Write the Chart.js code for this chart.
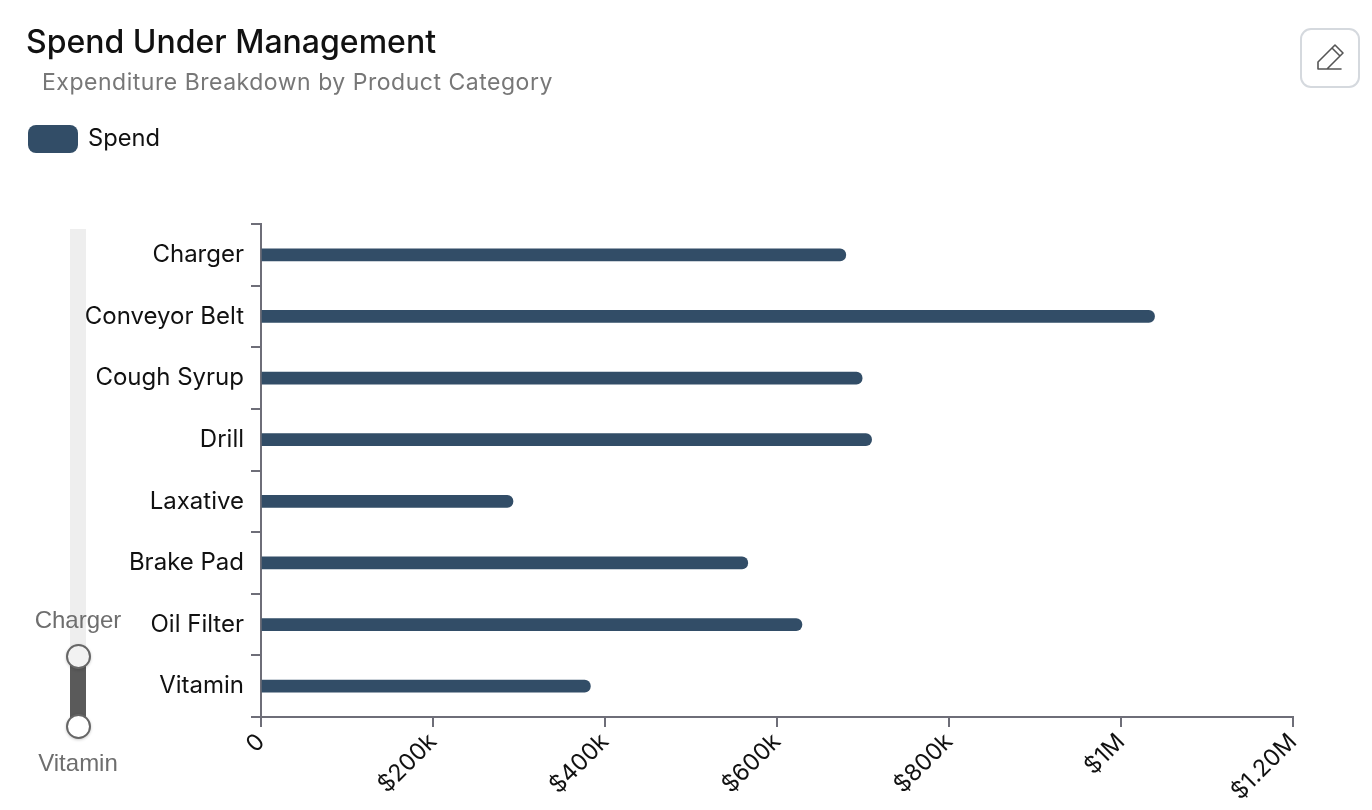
<!DOCTYPE html>
<html>
<head>
<meta charset="utf-8">
<script src="https://cdn.jsdelivr.net/npm/chart.js@4"></script>
<style>
html,body{margin:0;padding:0;background:#fff;width:1372px;height:810px;overflow:hidden;font-family:Inter,sans-serif}
#wrap{position:relative;width:1372px;height:810px}
canvas{position:absolute;left:0;top:0}
.t{position:absolute;white-space:nowrap;line-height:1}
#title{left:26px;top:26px;font-size:32px;font-weight:500;color:#111}
#sub{left:42px;top:71px;font-size:23px;color:#777;letter-spacing:.52px}
#sw{position:absolute;left:28px;top:125px;width:50px;height:28px;border-radius:8px;background:#324d67}
#leg{left:88px;top:126px;font-size:23.7px;color:#111}
.sl{font-family:"Liberation Sans",sans-serif;font-size:24px;color:#6e6e6e;width:120px;text-align:center;left:18px}
#trk{position:absolute;left:70px;top:229px;width:16px;height:497px;background:#eee}
#sel{position:absolute;left:70px;top:656px;width:16px;height:70px;background:#5a5a5a}
.h{position:absolute;left:66px;width:21px;height:21px;border:2px solid #666;border-radius:50%;box-shadow:0 1px 3px rgba(0,0,0,.2)}
#btn{position:absolute;left:1300px;top:28px;width:56px;height:56px;border:2px solid #d5d9de;border-radius:11px;background:#fff}
</style>
</head>
<body>
<div id="wrap">
<canvas id="c" width="1372" height="810"></canvas>
<div class="t" id="title">Spend Under Management</div>
<div class="t" id="sub">Expenditure Breakdown by Product Category</div>
<div id="sw"></div><div class="t" id="leg"></div>
<div id="trk"></div><div id="sel"></div>
<div class="t sl" id="s1" style="top:608px"></div>
<div class="t sl" id="s2" style="top:751px"></div>
<div class="h" style="top:644px;background:#f2f2f2"></div>
<div class="h" style="top:714px;background:#fff"></div>
<div id="btn"><svg width="56" height="56" viewBox="0 0 56 56" fill="none" stroke="#555" stroke-width="1.6" stroke-linejoin="round" stroke-linecap="round" style="position:absolute;left:0;top:0"><path d="M16 39v-7L33 15l8 8-16 16zM30 18l8 8M16 39h23"/></svg></div>
</div>
<script>
const seriesName = "Spend";
const categories = ["Charger","Conveyor Belt","Cough Syrup","Drill","Laxative","Brake Pad","Oil Filter","Vitamin"];
const spend = [680000,1039000,699000,710000,293000,566000,629000,383000];
const xTicks = {0:"0",200000:"$200k",400000:"$400k",600000:"$600k",800000:"$800k",1000000:"$1M",1200000:"$1.20M"};
const axisColor = "#6e6e78";
const barColor = "#324d67";

document.getElementById("leg").textContent = seriesName;
document.getElementById("s1").textContent = categories[0];
document.getElementById("s2").textContent = categories[categories.length-1];

new Chart(document.getElementById("c"),{
  type:"bar",
  data:{labels:categories,datasets:[{label:seriesName,data:spend,backgroundColor:barColor,barThickness:12,borderRadius:{topRight:6,bottomRight:6,topLeft:0,bottomLeft:0},borderSkipped:false}]},
  options:{
    indexAxis:"y",responsive:false,animation:false,
    layout:{padding:{left:0,right:79,top:224,bottom:0}},
    plugins:{legend:{display:false},tooltip:{enabled:false}},
    scales:{
      x:{min:0,max:1200000,
        afterFit(s){s.height=93;},
        grid:{drawOnChartArea:false,color:axisColor,lineWidth:2,tickLength:10},
        border:{color:axisColor,width:2},
        ticks:{stepSize:200000,autoSkip:false,minRotation:45,maxRotation:45,padding:1,color:"#111",font:{family:"Inter",size:23.5},
          callback:v=>xTicks[v]}},
      y:{
        afterFit(s){s.width=261;},
        grid:{drawOnChartArea:false,color:axisColor,lineWidth:2,tickLength:10},
        border:{color:axisColor,width:2},
        ticks:{padding:7,color:"#111",font:{family:"Inter",size:24}}}
    }
  }
});
</script>
</body>
</html>
